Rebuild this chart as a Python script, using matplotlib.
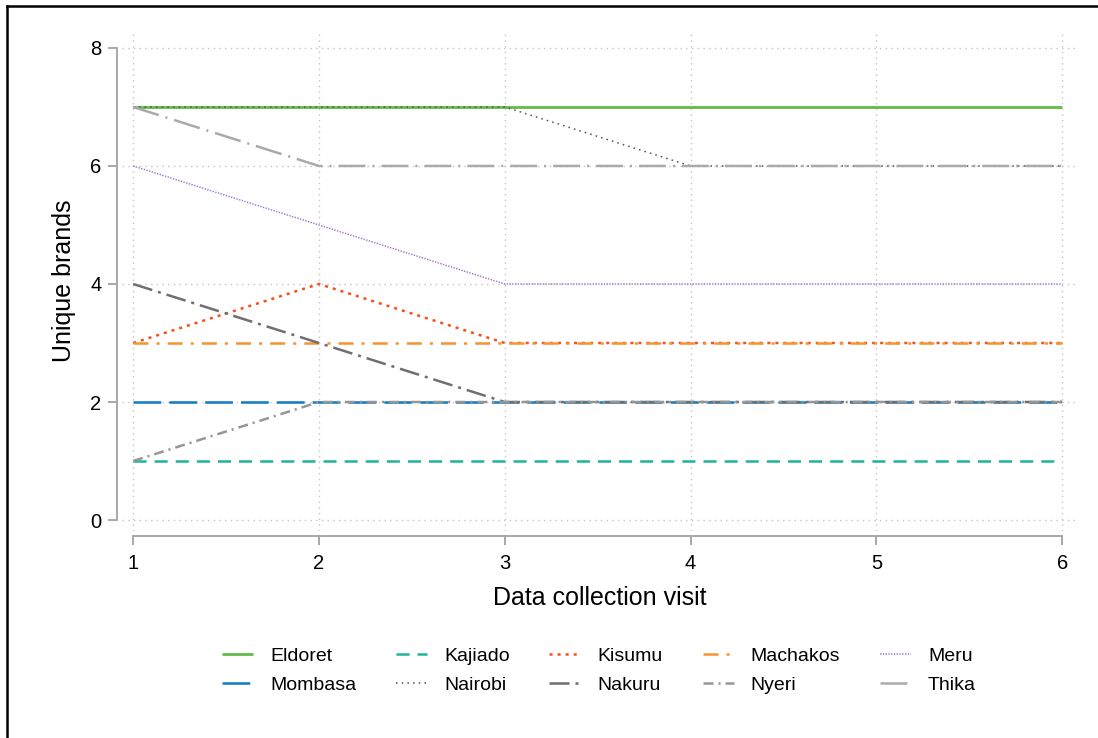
import matplotlib
matplotlib.use("Agg")
import matplotlib.pyplot as plt
from matplotlib.lines import Line2D

plt.rcParams['font.family'] = ['Liberation Sans', 'DejaVu Sans']
plt.rcParams['lines.scale_dashes'] = False

# unique brands per town at each visit
visits = [1, 2, 3, 4, 5, 6]
towns = ["Eldoret", "Kajiado", "Kisumu", "Machakos", "Meru",
         "Mombasa", "Nairobi", "Nakuru", "Nyeri", "Thika"]
eldoret = [7, 7, 7, 7, 7, 7]
kajiado = [1, 1, 1, 1, 1, 1]
kisumu = [3, 4, 3, 3, 3, 3]
machakos = [3, 3, 3, 3, 3, 3]
meru = [6, 5, 4, 4, 4, 4]
mombasa = [2, 2, 2, 2, 2, 2]
nairobi = [7, 7, 7, 6, 6, 6]
nakuru = [4, 3, 2, 2, 2, 2]
nyeri = [1, 2, 2, 2, 2, 2]
thika = [7, 6, 6, 6, 6, 6]
values = [eldoret, kajiado, kisumu, machakos, meru,
          mombasa, nairobi, nakuru, nyeri, thika]

# colour, linewidth, dash pattern (points)
styles = {
    "Eldoret":  ("#62bb46", 2.0, None),
    "Kajiado":  ("#1fb39a", 1.8, (9.4, 5.8)),
    "Kisumu":   ("#f4511e", 1.8, (2.2, 3.6)),
    "Machakos": ("#f7942e", 1.8, (10.8, 5.8, 2.2, 5.8)),
    "Meru":     ("#a37cc6", 1.1, (1.0, 1.0)),
    "Mombasa":  ("#0e7ac4", 1.8, (20, 5.8)),
    "Nairobi":  ("#50505a", 1.1, (1.1, 3.0)),
    "Nakuru":   ("#6f6f6f", 1.8, (14.4, 4.3, 2.2, 4.3)),
    "Nyeri":    ("#969696", 1.8, (7.2, 3.6, 1.5, 3.6)),
    "Thika":    ("#aaaaaa", 1.8, (19.4, 5.0, 1.5, 5.0)),
}

fig = plt.figure(figsize=(10.98, 7.38), dpi=100)
ax = fig.add_axes([0.1111, 0.2805, 0.8707, 0.6789])

axis_col = "#a8a8a8"
for x in visits:
    ax.axvline(x, color="#c8c8c8", lw=1, dashes=(1.1, 3.0), zorder=0)
for y in [0, 2, 4, 6, 8]:
    ax.axhline(y, color="#c8c8c8", lw=1, dashes=(1.1, 3.0), zorder=0)

lines = {}
for name, vals in zip(towns, values):
    col, lw, dash = styles[name]
    ln, = ax.plot(visits, vals, color=col, lw=lw, solid_capstyle="butt",
                  dash_capstyle="butt", label=name)
    if dash is not None:
        ln.set_dashes(dash)
    lines[name] = ln

ax.set_xlim(0.94, 6.085)
ax.set_ylim(-0.186, 8.305)
ax.set_xticks(visits)
ax.set_yticks([0, 2, 4, 6, 8])

for s in ["top", "right"]:
    ax.spines[s].set_visible(False)
ax.spines["left"].set_position(("outward", 3.6))
ax.spines["bottom"].set_position(("outward", 3.6))
ax.spines["left"].set_bounds(0, 8)
ax.spines["bottom"].set_bounds(1, 6)
for s in ["left", "bottom"]:
    ax.spines[s].set_color(axis_col)
    ax.spines[s].set_linewidth(1.4)
ax.tick_params(axis="both", color=axis_col, width=1.4, length=6.8,
               labelsize=14.5, labelcolor="black")
ax.tick_params(axis="y", pad=4.3)
ax.tick_params(axis="x", pad=6.5)

ax.set_xlabel("Data collection visit", fontsize=18, labelpad=9)
ax.set_ylabel("Unique brands", fontsize=18, labelpad=10)

# legend laid out row by row
order = ["Eldoret", "Mombasa", "Kajiado", "Nairobi", "Kisumu",
         "Nakuru", "Machakos", "Nyeri", "Meru", "Thika"]
fig.legend([lines[n] for n in order], order, loc="center",
           bbox_to_anchor=(0.5455, 0.091), ncol=5, frameon=False,
           fontsize=14, handlelength=1.6, handletextpad=0.87,
           columnspacing=2.05, labelspacing=0.6)

# outer frame
fig.add_artist(Line2D([7 / 1098, 7 / 1098], [0, 1 - 5.5 / 738],
                      transform=fig.transFigure, color="black", lw=1.8))
fig.add_artist(Line2D([7 / 1098, 1], [1 - 5.5 / 738, 1 - 5.5 / 738],
                      transform=fig.transFigure, color="black", lw=1.8))

fig.savefig("out.png", dpi=100)
